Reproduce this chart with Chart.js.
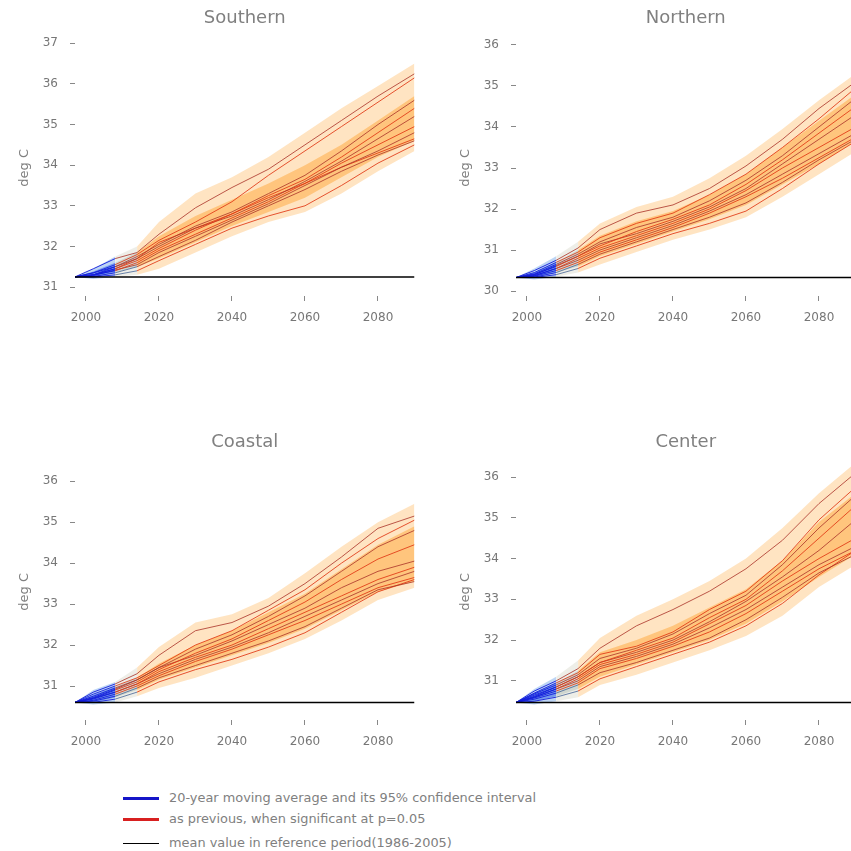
<!DOCTYPE html>
<html lang="en">
<head>
<meta charset="UTF-8">
<title>Temperature projections by region</title>
<script src="https://cdn.jsdelivr.net/npm/chart.js"></script>
<style>
  html, body { margin: 0; padding: 0; background: #fff; overflow: hidden; }
  #wrap { position: relative; width: 851px; height: 851px; overflow: hidden; }
  #wrap canvas { position: absolute; }
  .lg { position: absolute; left: 123px; font: 12.9px "DejaVu Sans", sans-serif; color: #808080; white-space: nowrap; }
  .lg span { display: inline-block; width: 36px; vertical-align: middle; margin-right: 10px; }
</style>
</head>
<body>
<div id="wrap">
  <canvas id="south" width="425" height="341" style="left:0;top:0"></canvas>
  <canvas id="north" width="425" height="341" style="left:441px;top:0"></canvas>
  <canvas id="coast" width="425" height="341" style="left:0;top:424px"></canvas>
  <canvas id="center" width="425" height="341" style="left:441px;top:424px"></canvas>

  <div class="lg" style="top:790px"><span style="border-top:3px solid #1515c8"></span>20-year moving average and its 95% confidence interval</div>
  <div class="lg" style="top:811px"><span style="border-top:3px solid #d82020"></span>as previous, when significant at p=0.05</div>
  <div class="lg" style="top:835px"><span style="border-top:1.5px solid #000"></span>mean value in reference period(1986-2005)</div>
</div>

<script>
// sample years of the moving averages
const years = [1997, 2002, 2008, 2014, 2020, 2030, 2040, 2050, 2060, 2070, 2080, 2090];
const xTicks = [2000, 2020, 2040, 2060, 2080];

// Southern
const southRef = 31.25;
const southTicks = [31, 32, 33, 34, 35, 36, 37];
const southRuns = [
  [31.25, 31.45, 31.70, 31.85, 32.30, 32.95, 33.45, 33.90, 34.50, 35.10, 35.70, 36.25],
  [31.25, 31.35, 31.55, 31.80, 32.15, 32.60, 33.10, 33.75, 34.35, 34.95, 35.55, 36.15],
  [31.25, 31.30, 31.50, 31.75, 32.05, 32.50, 32.85, 33.30, 33.75, 34.35, 35.00, 35.60],
  [31.25, 31.30, 31.45, 31.65, 31.95, 32.40, 32.80, 33.25, 33.65, 34.20, 34.80, 35.40],
  [31.25, 31.35, 31.50, 31.70, 32.00, 32.45, 32.75, 33.15, 33.60, 34.10, 34.65, 35.20],
  [31.25, 31.30, 31.40, 31.60, 31.90, 32.30, 32.70, 33.10, 33.55, 34.05, 34.50, 34.95],
  [31.25, 31.28, 31.42, 31.55, 31.85, 32.25, 32.65, 33.05, 33.50, 33.95, 34.35, 34.80],
  [31.25, 31.30, 31.45, 31.70, 32.10, 32.45, 32.80, 33.20, 33.55, 33.95, 34.30, 34.65],
  [31.25, 31.26, 31.35, 31.50, 31.75, 32.15, 32.60, 33.00, 33.40, 33.85, 34.25, 34.60],
  [31.25, 31.25, 31.30, 31.40, 31.65, 32.05, 32.45, 32.75, 33.00, 33.50, 34.05, 34.50]
];
const southSig = [2008, 2008, 2008, 2008, 2008, 2008, 2008, 2008, 2014, 2014];
const southOuterHi = [31.25, 31.45, 31.75, 32.00, 32.60, 33.30, 33.70, 34.20, 34.80, 35.40, 35.95, 36.50];
const southOuterLo = [31.25, 31.20, 31.25, 31.30, 31.45, 31.85, 32.25, 32.60, 32.85, 33.30, 33.85, 34.35];
const southInnerHi = [31.25, 31.38, 31.60, 31.85, 32.25, 32.75, 33.15, 33.55, 34.00, 34.50, 35.10, 35.70];
const southInnerLo = [31.25, 31.25, 31.35, 31.50, 31.70, 32.10, 32.50, 32.85, 33.20, 33.70, 34.20, 34.60];

// Northern
const northRef = 30.33;
const northTicks = [30, 31, 32, 33, 34, 35, 36];
const northRuns = [
  [30.33, 30.50, 30.75, 31.05, 31.50, 31.90, 32.10, 32.50, 33.05, 33.70, 34.45, 35.10],
  [30.33, 30.45, 30.70, 30.95, 31.30, 31.65, 31.90, 32.35, 32.85, 33.50, 34.20, 34.95],
  [30.33, 30.42, 30.65, 30.90, 31.20, 31.55, 31.80, 32.20, 32.70, 33.30, 34.00, 34.70],
  [30.33, 30.40, 30.60, 30.85, 31.10, 31.45, 31.75, 32.10, 32.60, 33.20, 33.85, 34.50],
  [30.33, 30.40, 30.62, 30.85, 31.15, 31.40, 31.70, 32.05, 32.50, 33.10, 33.70, 34.30],
  [30.33, 30.38, 30.55, 30.80, 31.05, 31.35, 31.65, 32.00, 32.45, 33.00, 33.50, 34.00],
  [30.33, 30.37, 30.55, 30.75, 31.00, 31.30, 31.60, 31.95, 32.35, 32.85, 33.35, 33.85],
  [30.33, 30.36, 30.50, 30.70, 30.95, 31.25, 31.55, 31.90, 32.30, 32.75, 33.25, 33.75],
  [30.33, 30.34, 30.45, 30.65, 30.90, 31.20, 31.50, 31.80, 32.15, 32.65, 33.20, 33.70],
  [30.33, 30.33, 30.40, 30.55, 30.80, 31.10, 31.40, 31.65, 31.95, 32.50, 33.10, 33.65]
];
const northSig = [2008, 2008, 2008, 2008, 2008, 2008, 2008, 2008, 2014, 2014];
const northOuterHi = [30.33, 30.55, 30.85, 31.20, 31.65, 32.05, 32.30, 32.75, 33.30, 33.95, 34.65, 35.30];
const northOuterLo = [30.33, 30.28, 30.35, 30.45, 30.65, 30.95, 31.25, 31.50, 31.80, 32.30, 32.85, 33.40];
const northInnerHi = [30.33, 30.45, 30.70, 31.00, 31.35, 31.70, 31.95, 32.35, 32.85, 33.50, 34.15, 34.80];
const northInnerLo = [30.33, 30.33, 30.45, 30.60, 30.85, 31.15, 31.45, 31.75, 32.10, 32.60, 33.10, 33.65];

// Coastal
const coastRef = 30.6;
const coastTicks = [31, 32, 33, 34, 35, 36];
const coastRuns = [
  [30.60, 30.85, 31.05, 31.30, 31.75, 32.35, 32.55, 32.95, 33.50, 34.15, 34.85, 35.15],
  [30.60, 30.80, 31.00, 31.20, 31.50, 32.00, 32.35, 32.85, 33.35, 34.00, 34.60, 35.05],
  [30.60, 30.75, 30.95, 31.15, 31.45, 31.90, 32.25, 32.70, 33.20, 33.80, 34.40, 34.80],
  [30.60, 30.70, 30.90, 31.10, 31.40, 31.80, 32.15, 32.60, 33.05, 33.60, 34.10, 34.45],
  [30.60, 30.72, 30.92, 31.15, 31.45, 31.75, 32.10, 32.50, 32.90, 33.40, 33.80, 34.05],
  [30.60, 30.70, 30.85, 31.05, 31.35, 31.70, 32.00, 32.40, 32.80, 33.20, 33.60, 33.90],
  [30.60, 30.68, 30.85, 31.05, 31.30, 31.65, 31.95, 32.30, 32.70, 33.10, 33.50, 33.80],
  [30.60, 30.65, 30.80, 31.00, 31.25, 31.60, 31.90, 32.25, 32.60, 33.00, 33.40, 33.65],
  [30.60, 30.63, 30.75, 30.95, 31.20, 31.50, 31.80, 32.10, 32.45, 32.90, 33.35, 33.55],
  [30.60, 30.60, 30.68, 30.85, 31.10, 31.40, 31.65, 31.95, 32.30, 32.80, 33.30, 33.60]
];
const coastSig = [2008, 2008, 2008, 2008, 2008, 2008, 2008, 2008, 2014, 2014];
const coastOuterHi = [30.60, 30.90, 31.10, 31.45, 31.95, 32.55, 32.75, 33.15, 33.75, 34.40, 35.00, 35.45];
const coastOuterLo = [30.60, 30.55, 30.60, 30.75, 30.95, 31.20, 31.50, 31.80, 32.15, 32.60, 33.10, 33.40];
const coastInnerHi = [30.60, 30.78, 30.98, 31.20, 31.55, 32.00, 32.35, 32.80, 33.25, 33.85, 34.45, 34.90];
const coastInnerLo = [30.60, 30.60, 30.72, 30.90, 31.15, 31.45, 31.75, 32.05, 32.40, 32.85, 33.30, 33.55];

// Center
const centerRef = 30.47;
const centerTicks = [31, 32, 33, 34, 35, 36];
const centerRuns = [
  [30.47, 30.75, 31.00, 31.30, 31.80, 32.35, 32.75, 33.20, 33.75, 34.45, 35.35, 36.10],
  [30.47, 30.70, 30.95, 31.20, 31.65, 31.85, 32.20, 32.75, 33.20, 33.95, 34.95, 35.75],
  [30.47, 30.68, 30.90, 31.15, 31.55, 31.80, 32.15, 32.65, 33.10, 33.85, 34.75, 35.55],
  [30.47, 30.65, 30.85, 31.10, 31.45, 31.75, 32.05, 32.55, 33.00, 33.70, 34.50, 35.30],
  [30.47, 30.62, 30.85, 31.10, 31.45, 31.70, 32.00, 32.45, 32.95, 33.55, 34.20, 34.95],
  [30.47, 30.60, 30.80, 31.05, 31.40, 31.65, 31.95, 32.40, 32.85, 33.45, 34.00, 34.50],
  [30.47, 30.60, 30.80, 31.00, 31.35, 31.60, 31.90, 32.30, 32.75, 33.30, 33.85, 34.30],
  [30.47, 30.58, 30.75, 30.95, 31.30, 31.55, 31.85, 32.20, 32.65, 33.20, 33.75, 34.20],
  [30.47, 30.55, 30.70, 30.90, 31.20, 31.45, 31.75, 32.05, 32.50, 33.05, 33.65, 34.10],
  [30.47, 30.50, 30.60, 30.75, 31.05, 31.35, 31.65, 31.95, 32.35, 32.90, 33.60, 34.20]
];
const centerSig = [2008, 2008, 2008, 2008, 2008, 2008, 2008, 2008, 2014, 2014];
const centerOuterHi = [30.47, 30.80, 31.10, 31.50, 32.05, 32.60, 33.00, 33.45, 34.00, 34.75, 35.60, 36.35];
const centerOuterLo = [30.47, 30.42, 30.50, 30.60, 30.90, 31.15, 31.45, 31.75, 32.10, 32.60, 33.30, 33.85];
const centerInnerHi = [30.47, 30.70, 30.95, 31.25, 31.70, 32.00, 32.35, 32.80, 33.25, 33.95, 34.90, 35.60];
const centerInnerLo = [30.47, 30.50, 30.62, 30.80, 31.10, 31.40, 31.70, 32.00, 32.40, 32.95, 33.55, 34.10];

Chart.defaults.font.family = '"DejaVu Sans", sans-serif';

const pts = arr => years.map((x, i) => ({ x: x, y: arr[i] }));

function bandColor(outer) {
  return c => {
    const x = c.p1.parsed.x;
    if (x <= 2008) return outer ? 'rgba(90,150,230,0.40)' : 'rgba(40,90,230,0.50)';
    if (x <= 2014) return outer ? 'rgba(200,200,180,0.30)' : 'rgba(150,170,160,0.35)';
    return outer ? 'rgba(255,190,110,0.42)' : 'rgba(255,155,30,0.42)';
  };
}

function makePanel(id, title, ref, yMin, yMax, yTicks, runs, sig, outerHi, outerLo, innerHi, innerLo) {
  const datasets = [
    { data: pts(outerHi), fill: '+1', borderWidth: 0, pointRadius: 0, order: 4,
      backgroundColor: 'rgba(255,190,110,0.42)', segment: { backgroundColor: bandColor(true) } },
    { data: pts(outerLo), fill: false, borderWidth: 0, pointRadius: 0, order: 4 },
    { data: pts(innerHi), fill: '+1', borderWidth: 0, pointRadius: 0, order: 3,
      backgroundColor: 'rgba(255,155,30,0.42)', segment: { backgroundColor: bandColor(false) } },
    { data: pts(innerLo), fill: false, borderWidth: 0, pointRadius: 0, order: 3 }
  ];
  runs.forEach((r, k) => {
    const red = k % 2 ? 'rgba(225,55,20,0.85)' : 'rgba(170,50,40,0.8)';
    datasets.push({
      data: pts(r), fill: false, borderWidth: 1, pointRadius: 0, order: 1,
      borderColor: red,
      segment: {
        borderColor: c => c.p1.parsed.x <= 2008 ? 'rgba(20,30,220,0.9)'
          : (c.p1.parsed.x <= sig[k] ? 'rgba(70,100,150,0.8)' : red)
      }
    });
  });
  datasets.push({
    data: [{ x: 1997, y: ref }, { x: 2090, y: ref }],
    fill: false, borderColor: '#000', borderWidth: 1.5, pointRadius: 0, order: 0
  });

  const tickFont = { size: 12 };
  new Chart(document.getElementById(id), {
    type: 'line',
    data: { datasets: datasets },
    options: {
      responsive: false,
      animation: false,
      devicePixelRatio: 1,
      layout: { padding: { left: 0, right: 10.5, top: 0, bottom: 0 } },
      plugins: {
        legend: { display: false },
        tooltip: { enabled: false },
        title: {
          display: true, text: title, fullSize: false, color: '#808080',
          font: { size: 18, weight: 'normal' }, padding: { top: 8, bottom: 10 }
        }
      },
      scales: {
        x: {
          type: 'linear', min: 1997, max: 2090,
          afterBuildTicks: s => { s.ticks = xTicks.map(v => ({ value: v })); },
          afterFit: s => { s.height = 45; },
          border: { display: false },
          grid: { drawOnChartArea: false, drawTicks: true, tickLength: 5, tickColor: '#888', tickWidth: 1 },
          ticks: { color: '#777', padding: 10, font: tickFont, maxRotation: 0, autoSkip: false,
                   callback: v => String(v) }
        },
        y: {
          type: 'linear', min: yMin, max: yMax,
          afterBuildTicks: s => { s.ticks = yTicks.map(v => ({ value: v })); },
          afterFit: s => { s.width = 75; },
          border: { display: false },
          grid: { drawOnChartArea: false, drawTicks: true, tickLength: 5, tickColor: '#888', tickWidth: 1 },
          ticks: { color: '#777', padding: 12, font: tickFont, callback: v => String(v) },
          title: { display: true, text: 'deg C', color: '#808080', font: { size: 13 }, padding: { top: 17, bottom: 0 } }
        }
      }
    }
  });
}

makePanel('south', 'Southern', southRef, 30.78, 37.09, southTicks, southRuns, southSig,
  southOuterHi, southOuterLo, southInnerHi, southInnerLo);
makePanel('north', 'Northern', northRef, 29.88, 36.13, northTicks, northRuns, northSig,
  northOuterHi, northOuterLo, northInnerHi, northInnerLo);
makePanel('coast', 'Coastal', coastRef, 30.17, 36.43, coastTicks, coastRuns, coastSig,
  coastOuterHi, coastOuterLo, coastInnerHi, coastInnerLo);
makePanel('center', 'Center', centerRef, 30.04, 36.33, centerTicks, centerRuns, centerSig,
  centerOuterHi, centerOuterLo, centerInnerHi, centerInnerLo);
</script>
</body>
</html>
